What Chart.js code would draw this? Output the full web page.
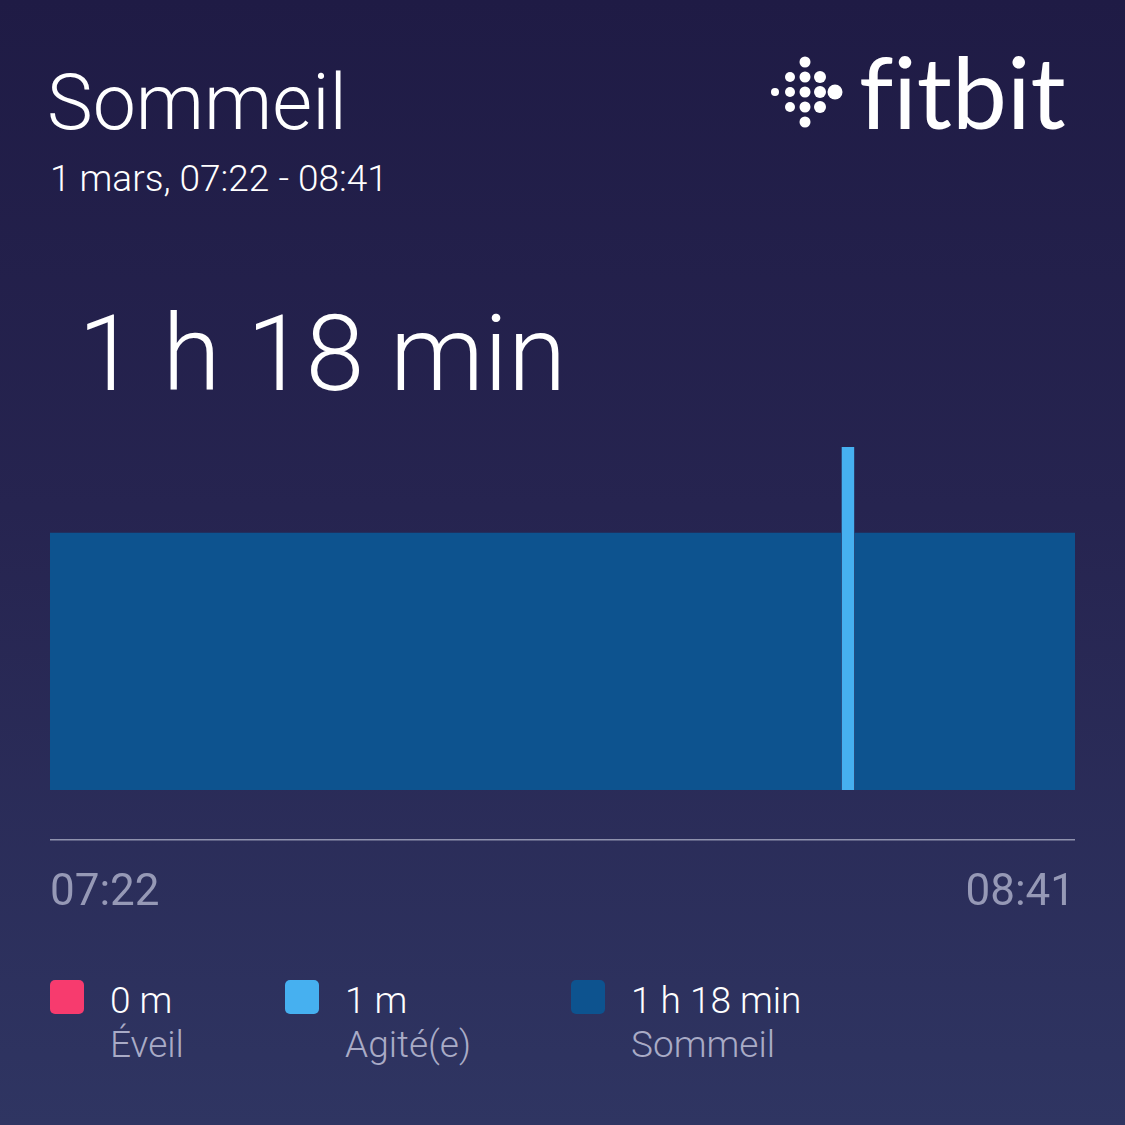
<!DOCTYPE html>
<html>
<head>
<meta charset="utf-8">
<script src="https://cdn.jsdelivr.net/npm/chart.js@4/dist/chart.umd.min.js"></script>
<style>
  html, body { margin: 0; padding: 0; }
  body {
    width: 1125px; height: 1125px; overflow: hidden; position: relative;
    background: linear-gradient(to bottom, #1f1b45 0%, #262450 45%, #2f3562 100%);
    font-family: Roboto, "Noto Sans", sans-serif; color: #fff;
  }
  .t { position: absolute; line-height: 1; white-space: nowrap; }
  #chartBox { position: absolute; left: 50px; top: 447px; width: 1025px; height: 513px; }
  .sw { position: absolute; width: 34px; height: 34px; border-radius: 5px; top: 980px; }
  .lv { font-size: 37px; font-weight: 300; color: #fff; }
  .ln { font-size: 37px; font-weight: 300; color: #a9abc6; }
</style>
</head>
<body>
<div class="t" style="left:47px; top:65px; font-size:77px; font-weight:300;">Sommeil</div>
<div class="t" style="left:50px; top:160px; font-size:37px; font-weight:300;">1 mars, 07:22 - 08:41</div>
<div class="t" id="total" style="left:78px; top:301px; font-size:106px; font-weight:300;"></div>

<svg style="position:absolute; left:760px; top:50px;" width="90" height="85" id="logo"></svg>
<div class="t" style="left:859px; top:42px; font-size:98px; font-family:Lato, sans-serif; font-weight:400; font-variant-ligatures:none; font-feature-settings:'liga' 0;">fitbit</div>

<div id="chartBox"><canvas id="sleepChart"></canvas></div>
<div id="legend"></div>

<script>
// sleep stages (minutes counted from 07:22)
const stageNames = ['Éveil', 'Agité(e)', 'Sommeil'];
const stageColors = ['#f73b6e', '#46b0f0', '#0d538f'];
const stageLevels = [5, 4, 3];
const stageTotals = ['0 m', '1 m', '1 h 18 min'];

const segStart = [0, 61, 62];
const segEnd = [61, 62, 79];
const segStage = [2, 1, 2];

const tickMinutes = [0, 79];
const tickLabels = ['07:22', '08:41'];

document.getElementById('total').textContent = stageTotals[2];

// logo dots
const logo = document.getElementById('logo');
const cols = [[15, 4, [42]], [30, 5, [27, 42, 57]], [45, 5.5, [12, 27, 42, 57, 72]], [60, 6, [27, 42, 57]], [75, 7.5, [42]]];
cols.forEach(c => {
  c[2].forEach(y => {
    const d = document.createElementNS('http://www.w3.org/2000/svg', 'circle');
    d.setAttribute('cx', c[0]); d.setAttribute('cy', y); d.setAttribute('r', c[1]);
    d.setAttribute('fill', '#fff');
    logo.appendChild(d);
  });
});

// legend
const legend = document.getElementById('legend');
const legX = [50, 285, 571];
stageNames.forEach((name, i) => {
  legend.insertAdjacentHTML('beforeend',
    `<div class="sw" style="left:${legX[i]}px; background:${stageColors[i]}"></div>` +
    `<div class="t lv" style="left:${legX[i] + 60}px; top:982px">${stageTotals[i]}</div>` +
    `<div class="t ln" style="left:${legX[i] + 60}px; top:1026px">${name}</div>`);
});

const datasets = segStart.map((s, i) => ({
  label: stageNames[segStage[i]],
  data: [{ x: s, y: stageLevels[segStage[i]] }, { x: segEnd[i], y: stageLevels[segStage[i]] }],
  backgroundColor: stageColors[segStage[i]],
  borderWidth: 0,
  pointRadius: 0,
  fill: 'origin',
  tension: 0
}));

const sleepChart = new Chart(document.getElementById('sleepChart'), {
  type: 'line',
  data: { datasets: datasets },
  options: {
    responsive: true,
    maintainAspectRatio: false,
    animation: false,
    layout: { padding: 0 },
    plugins: { legend: { display: false }, tooltip: { enabled: false } },
    scales: {
      x: {
        type: 'linear',
        min: 0,
        max: 79,
        grid: { display: false, drawTicks: false },
        border: { display: true, color: '#8f92ae', width: 1.5 },
        afterBuildTicks: axis => { axis.ticks = tickMinutes.map(v => ({ value: v })); },
        afterFit: scale => {
          scale.height = 120;
          scale.paddingLeft = 0;
          scale.paddingRight = 0;
        },
        ticks: {
          align: 'inner',
          maxRotation: 0,
          autoSkip: false,
          padding: 28,
          color: '#9699b6',
          font: { family: 'Roboto', size: 44 },
          callback: (v, i) => tickLabels[i]
        }
      },
      y: {
        display: false,
        min: -50 * 4 / 343,
        max: 4
      }
    }
  }
});
</script>
</body>
</html>
